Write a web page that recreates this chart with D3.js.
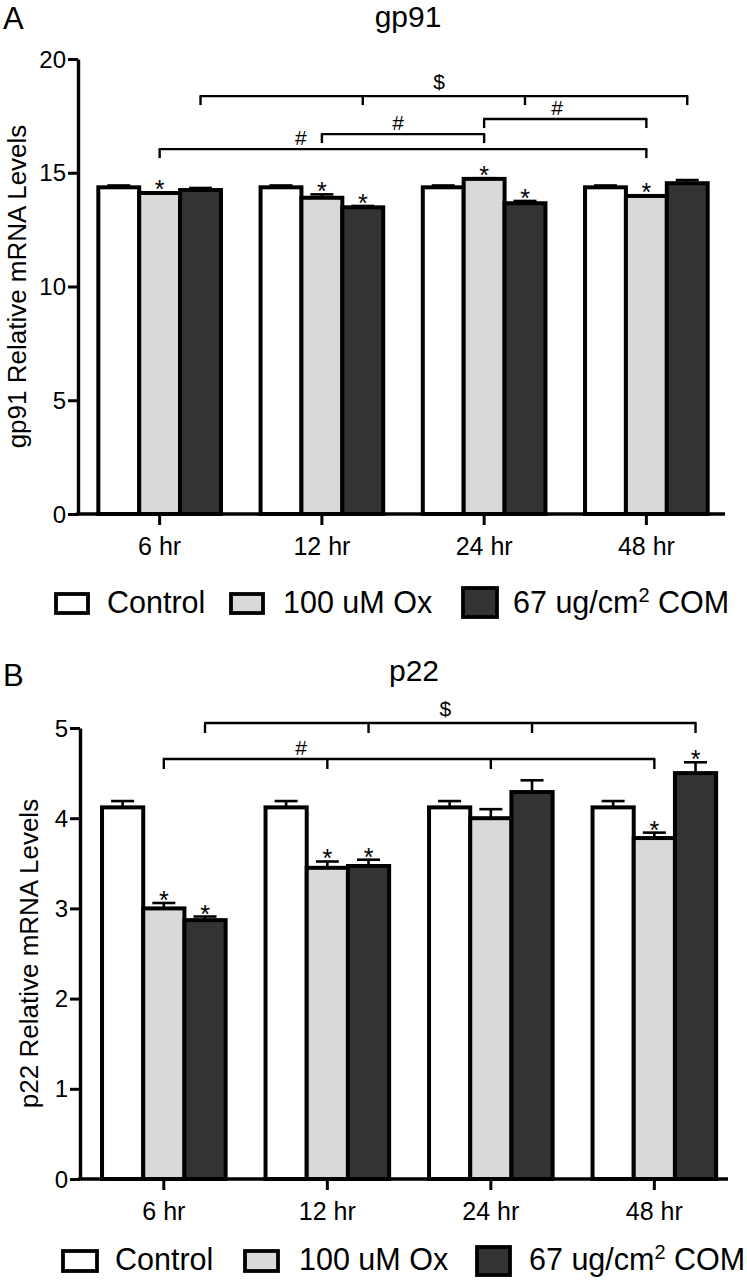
<!DOCTYPE html>
<html><head><meta charset="utf-8">
<script src="https://cdn.jsdelivr.net/npm/d3@7"></script>
<style>
body{margin:0;background:#fff}
svg{display:block}
text{font-family:"Liberation Sans",Arial,Helvetica,sans-serif;fill:#000}
</style>
</head><body><svg id="c" width="747" height="1280"></svg>
<script>
// ---------- data ----------
const categories = ["6 hr", "12 hr", "24 hr", "48 hr"];
const seriesNames = ["Control", "100 uM Ox", "67 ug/cm2 COM"];

const gp91Control    = [14.36, 14.36, 14.36, 14.36];
const gp91ControlErr = [0.08, 0.08, 0.08, 0.08];
const gp91Ox         = [14.11, 13.90, 14.73, 13.98];
const gp91OxErr      = [0.03, 0.15, 0.03, 0.03];
const gp91Com        = [14.24, 13.48, 13.66, 14.54];
const gp91ComErr     = [0.09, 0.06, 0.10, 0.14];
const gp91Stars      = [[0,0,0,0],[1,1,1,1],[0,1,1,0]];
const gp91YTicks     = [0, 5, 10, 15, 20];
const gp91Brackets = [
  {label: "$", series: 2, cats: [0,1,2,3], level: 18.37, labelAt: 0.49},
  {label: "#", series: 1, cats: [2,3],     level: 17.36, labelAt: 0.45},
  {label: "#", series: 1, cats: [1,2],     level: 16.70, labelAt: 0.47},
  {label: "#", series: 1, cats: [0,3],     level: 16.04, labelAt: 0.29}
];

const p22Control    = [4.12, 4.12, 4.12, 4.12];
const p22ControlErr = [0.07, 0.07, 0.07, 0.07];
const p22Ox         = [3.00, 3.45, 4.00, 3.78];
const p22OxErr      = [0.06, 0.07, 0.10, 0.06];
const p22Com        = [2.87, 3.47, 4.29, 4.50];
const p22ComErr     = [0.04, 0.07, 0.13, 0.12];
const p22Stars      = [[0,0,0,0],[1,1,0,1],[1,1,0,1]];
const p22YTicks     = [0, 1, 2, 3, 4, 5];
const p22Brackets = [
  {label: "$", series: 2, cats: [0,1,2,3], level: 5.055, labelAt: 0.49},
  {label: "#", series: 1, cats: [0,1,2,3], level: 4.656, labelAt: 0.28}
];

// ---------- styles ----------
const fills = ["#ffffff", "#d9d9d9", "#333333"];
const svg = d3.select("#c");

function drawPanel(cfg, vals, errs, stars, brackets, yTicks) {
  const g = svg.append("g");
  const x0 = d3.scaleBand().domain(categories).range(cfg.xRange)
      .paddingInner(0.244).paddingOuter(cfg.po).align(cfg.align);
  const x1 = d3.scaleBand().domain([0,1,2]).range([0, x0.bandwidth()]);
  const y = d3.scaleLinear().domain([0, yTicks[yTicks.length-1]]).range(cfg.yRange);
  const cx = (ci, s) => x0(categories[ci]) + x1(s) + x1.bandwidth()/2;

  const items = [];
  categories.forEach((c, ci) => vals.forEach((arr, s) =>
    items.push({c, ci, s, v: arr[ci], e: errs[s][ci], star: stars[s][ci]})));

  // error bars (drawn first so the bar outline covers the stem base)
  g.selectAll("line.err").data(items).join("line")
    .attr("x1", d => cx(d.ci, d.s)).attr("x2", d => cx(d.ci, d.s))
    .attr("y1", d => y(d.v)).attr("y2", d => y(d.v + d.e))
    .attr("stroke", "#000").attr("stroke-width", 2.6);
  g.selectAll("line.cap").data(items).join("line")
    .attr("x1", d => cx(d.ci, d.s) - 11.5).attr("x2", d => cx(d.ci, d.s) + 11.5)
    .attr("y1", d => y(d.v + d.e)).attr("y2", d => y(d.v + d.e))
    .attr("stroke", "#000").attr("stroke-width", 2.6);

  // bars
  g.selectAll("rect.bar").data(items).join("rect")
    .attr("x", d => x0(d.c) + x1(d.s))
    .attr("y", d => y(d.v))
    .attr("width", x1.bandwidth())
    .attr("height", d => y(0) - y(d.v))
    .attr("fill", d => fills[d.s])
    .attr("stroke", "#000").attr("stroke-width", 4);

  // asterisks
  g.selectAll("text.star").data(items.filter(d => d.star)).join("text")
    .attr("x", d => cx(d.ci, d.s)).attr("y", d => y(d.v + d.e) + 6)
    .attr("text-anchor", "middle").attr("font-size", 25).text("*");

  // brackets
  brackets.forEach(b => {
    const xs = b.cats.map(ci => cx(ci, b.series));
    const ly = y(b.level);
    g.append("line").attr("x1", xs[0] - 1).attr("x2", xs[xs.length-1] + 1)
      .attr("y1", ly).attr("y2", ly).attr("stroke", "#000").attr("stroke-width", 2.4);
    xs.forEach(xx => g.append("line").attr("x1", xx).attr("x2", xx)
      .attr("y1", ly).attr("y2", ly + cfg.bracketTick)
      .attr("stroke", "#000").attr("stroke-width", 2.4));
    const lx = xs[0] + (xs[xs.length-1] - xs[0]) * b.labelAt;
    g.append("text").attr("x", lx).attr("y", ly - (b.label === "$" ? 7 : 4))
      .attr("text-anchor", "middle").attr("font-size", 21).text(b.label);
  });

  // axes
  const xa = g.append("g").attr("transform", `translate(0,${y(0)})`)
    .call(d3.axisBottom(x0).tickSize(11).tickSizeOuter(0));
  xa.selectAll("text").attr("font-size", 25).attr("dy", null).attr("y", 41);
  const ya = g.append("g").attr("transform", `translate(${cfg.xRange[0]},0)`)
    .call(d3.axisLeft(y).tickValues(yTicks).tickFormat(d3.format("d")).tickSize(10).tickSizeOuter(0));
  ya.selectAll("text").attr("font-size", 24).attr("x", -12).attr("dy", "0.34em");
  [xa, ya].forEach(a => {
    a.select(".domain").attr("stroke-width", 3.4);
    a.selectAll(".tick line").attr("stroke-width", 3);
    a.selectAll("text").attr("font-family", '"Liberation Sans",Arial,sans-serif').attr("fill", "#000");
  });
  xa.select(".domain").attr("d", `M${cfg.xRange[0]-1.7},0H${cfg.xRange[1]}`);

  // titles
  g.append("text").attr("x", cfg.letterX).attr("y", cfg.letterY)
    .attr("font-size", 31).text(cfg.letter);
  g.append("text").attr("x", cfg.titleX).attr("y", cfg.titleY)
    .attr("text-anchor", "middle").attr("font-size", 30).text(cfg.title);
  g.append("text")
    .attr("transform", `translate(${cfg.ylabelX},${(cfg.yRange[0]+cfg.yRange[1])/2}) rotate(-90)`)
    .attr("text-anchor", "middle").attr("font-size", 26).text(cfg.ylabel);

  // legend
  const lg = g.append("g");
  seriesNames.forEach((name, s) => {
    const L = cfg.legend[s];
    lg.append("rect").attr("x", L.x).attr("y", L.y).attr("width", L.w).attr("height", L.h)
      .attr("fill", fills[s]).attr("stroke", "#000").attr("stroke-width", 3.8);
    const t = lg.append("text").attr("x", L.tx).attr("y", cfg.legendBase).attr("font-size", 30.5);
    if (name.indexOf("cm2") >= 0) {
      const parts = name.split("cm2");
      t.append("tspan").text(parts[0] + "cm");
      t.append("tspan").attr("font-size", 20).attr("dy", -11).text("2");
      t.append("tspan").attr("dy", 11).text(parts[1]);
    } else t.text(name);
  });
}

drawPanel({
  xRange: [78, 725], yRange: [514, 59], po: 0.116, align: 0.54, bracketTick: 9,
  letter: "A", letterX: 3, letterY: 29, title: "gp91", titleX: 408, titleY: 27,
  ylabel: "gp91 Relative mRNA Levels", ylabelX: 26,
  legendBase: 613,
  legend: [
    {x: 56, y: 594, w: 32, h: 19, tx: 107},
    {x: 231, y: 594, w: 32, h: 19, tx: 283},
    {x: 463, y: 588, w: 34, h: 29, tx: 513}
  ]
}, [gp91Control, gp91Ox, gp91Com], [gp91ControlErr, gp91OxErr, gp91ComErr], gp91Stars, gp91Brackets, gp91YTicks);

drawPanel({
  xRange: [80, 728], yRange: [1179, 728], po: 0.1036, align: 0.65, bracketTick: 10,
  letter: "B", letterX: 3, letterY: 686, title: "p22", titleX: 414, titleY: 681,
  ylabel: "p22 Relative mRNA Levels", ylabelX: 38,
  legendBase: 1270,
  legend: [
    {x: 63, y: 1251, w: 34, h: 20, tx: 115},
    {x: 245, y: 1251, w: 33, h: 20, tx: 299},
    {x: 477, y: 1247, w: 33, h: 28, tx: 529}
  ]
}, [p22Control, p22Ox, p22Com], [p22ControlErr, p22OxErr, p22ComErr], p22Stars, p22Brackets, p22YTicks);
</script>
</body></html>
